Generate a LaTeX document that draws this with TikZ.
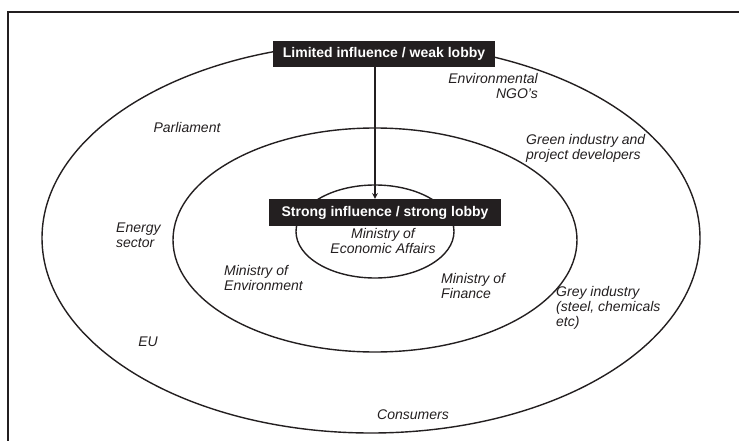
\documentclass[tikz,border=0pt]{standalone}
\usepackage{fontspec}
\setmainfont{Liberation Sans}
\usepackage{tikz}
\usetikzlibrary{shapes.geometric}
\definecolor{inkblack}{RGB}{35,31,32}
\tikzstyle{ring}=[ellipse,draw=inkblack,line width=1.400,inner sep=0pt]
\tikzstyle{lobby}=[rectangle,fill=inkblack,text=white,inner sep=0pt,font=\bfseries\fontsize{14}{15}\selectfont]
\tikzstyle{actor}=[inner sep=0pt,text=inkblack,font=\itshape\fontsize{14}{15}\selectfont]
\tikzstyle{inarrow}=[->, >=stealth, draw=inkblack, line width=1.500]
\tikzstyle{frame}=[-,draw=inkblack,line width=1.300]
\pgfdeclarelayer{edgelayer}
\pgfdeclarelayer{nodelayer}
\pgfsetlayers{edgelayer,nodelayer,main}

\begin{document}
\begin{tikzpicture}[x=1pt,y=-1pt]
	\useasboundingbox (0,0) rectangle (739,441);
	\begin{pgfonlayer}{nodelayer}
		\node [style=lobby, minimum width=222pt, minimum height=26pt] (weak) at (384, 54) {Limited influence / weak lobby};
		\node [style=lobby, minimum width=232pt, minimum height=27pt] (strong) at (385, 212.5) {Strong influence / strong lobby};

		\node [style=actor, align=right, anchor=east] (ngo) at (538, 85.5) {Environmental\\NGO's};
		\node [style=actor] (parl) at (187, 127) {Parliament};
		\node [style=actor, align=left, anchor=west] (green) at (526, 148.5) {Green industry and\\project developers};
		\node [style=actor, align=left, anchor=west] (energy) at (116, 235.5) {Energy\\sector};
		\node [style=actor, align=center] (econ) at (383, 241) {Ministry of\\Economic Affairs};
		\node [style=actor, align=left, anchor=west] (env) at (224, 277.5) {Ministry of\\Environment};
		\node [style=actor, align=left, anchor=west] (fin) at (441, 285.5) {Ministry of\\Finance};
		\node [style=actor, align=left, anchor=west] (grey) at (556, 307.5) {Grey industry\\(steel, chemicals\\etc)};
		\node [style=actor] (eu) at (148, 342) {EU};
		\node [style=actor] (cons) at (413, 415) {Consumers};
	\end{pgfonlayer}
	\begin{pgfonlayer}{edgelayer}
		\node [style=ring, minimum width=658pt, minimum height=390pt] (outer) at (371, 238) {};
		\node [style=ring, minimum width=404pt, minimum height=224pt] (middle) at (375, 240) {};
		\node [style=ring, minimum width=158pt, minimum height=93pt] (inner) at (375, 231.5) {};
		\draw [style=inarrow] (weak.south -| inner.north) to (strong.north -| inner.north);
		\draw [style=frame] (8, 441) |- (739, 12);
	\end{pgfonlayer}
\end{tikzpicture}
\end{document}
